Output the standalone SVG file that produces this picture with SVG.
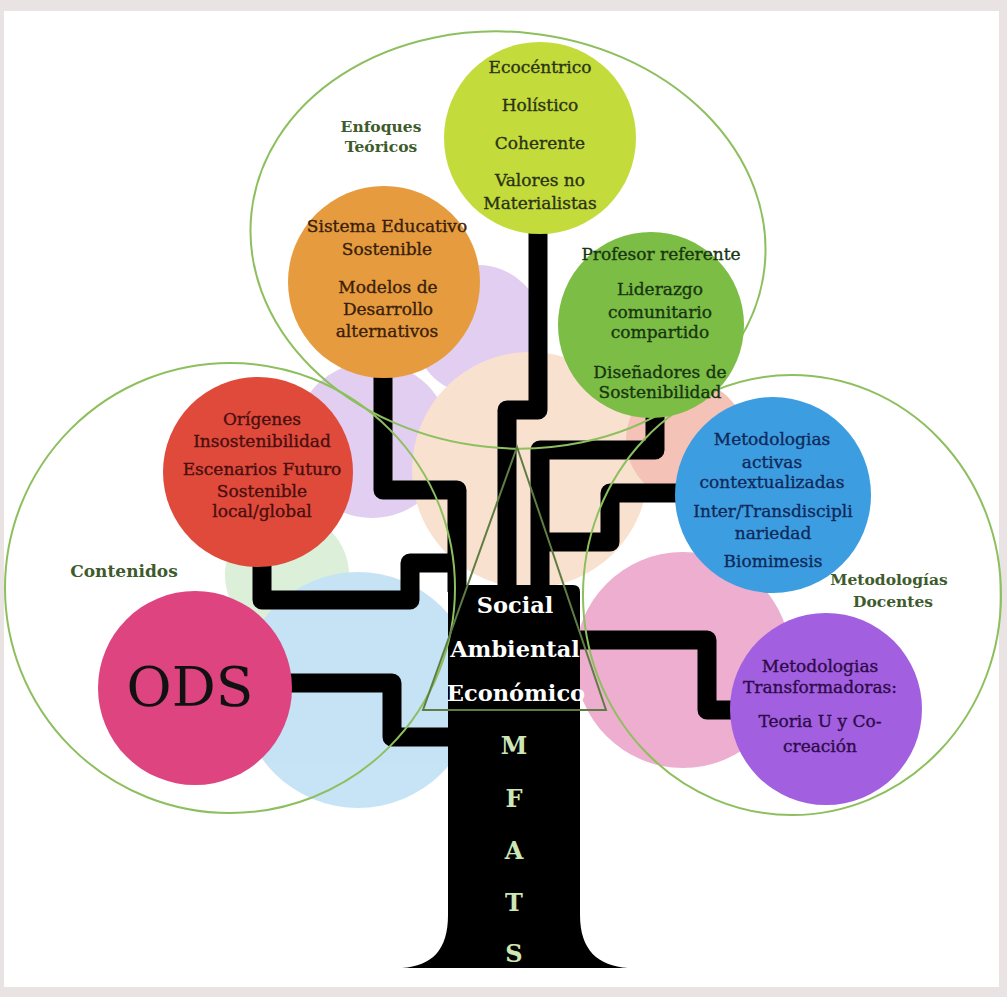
<svg xmlns="http://www.w3.org/2000/svg" width="1007" height="997" viewBox="0 0 1007 997">
  <style>
    .t { font-family: "DejaVu Serif", "Liberation Serif", serif; font-size: 17px; text-anchor: middle; stroke-width: 0.35px; }
    .lbl { font-weight: bold; fill: #3e5b2c; font-size: 15.5px; stroke: none; }
    .branch { fill: none; stroke: #000; stroke-width: 19; stroke-linejoin: round; }
    .ring { fill: none; stroke: #8dbf5e; stroke-width: 2; }
    .soft { opacity: 0.8; }
    .trunkTxt { font-family: "DejaVu Serif", "Liberation Serif", serif; font-weight: bold; font-size: 22.5px; text-anchor: middle; fill: #ffffff; }
    .mfats { font-family: "DejaVu Serif", "Liberation Serif", serif; font-weight: bold; font-size: 24px; text-anchor: middle; fill: #cde6b6; }
  </style>

  <!-- page background and white sheet -->
  <rect x="0" y="0" width="1007" height="997" fill="#e9e3e3"/>
  <rect x="4" y="11" width="995" height="976" fill="#ffffff"/>

  <!-- pale background blobs -->
  <g id="blobs" class="soft">
    <circle cx="478" cy="330" r="65" fill="#dcc2ee"/>
    <circle cx="372" cy="440" r="78" fill="#dcc2ee"/>
    <circle cx="530" cy="470" r="118" fill="#f7dcc4"/>
    <circle cx="686" cy="440" r="60" fill="#f3b4a6"/>
    <circle cx="683" cy="660" r="108" fill="#e99bc4"/>
    <circle cx="287" cy="575" r="62" fill="#d3ecd0"/>
    <circle cx="358" cy="690" r="118" fill="#b9ddf5"/>
  </g>

  <!-- branches linking each node to the trunk -->
  <g id="connectors">
    <path class="branch" d="M538 228 V410 H507 V592"/>
    <path class="branch" d="M655 405 V450 H540 V592"/>
    <path class="branch" d="M383 368 V490 H457 V592"/>
    <path class="branch" d="M262 555 V600 H410 V563 H462"/>
    <path class="branch" d="M285 683 H392 V737 H455"/>
    <path class="branch" d="M680 493 H610 V542 H540"/>
    <path class="branch" d="M575 640 H707 V710 H738"/>
  </g>

  <!-- trunk -->
  <g id="trunk">
    <path d="M448 592 Q448 585 455 585 L573 585 Q580 585 580 592 L580 915 C580 950 598 966 628 968 L402 968 C432 966 448 950 448 915 Z" fill="#000"/>
  </g>

  <!-- group outlines -->
  <g id="outlines">
    <ellipse class="ring" cx="508" cy="240" rx="258" ry="208" transform="rotate(6 508 240)"/>
    <circle class="ring" cx="230" cy="588" r="225"/>
    <ellipse class="ring" cx="792" cy="595" rx="209" ry="220"/>
    <polygon points="517,447 423,710 606,710" fill="none" stroke="#5f7d43" stroke-width="2"/>
  </g>

  <!-- nodes -->
  <g id="enfoques-ecocentrico">
    <circle cx="540" cy="138" r="96" fill="#c3dc3c"/>
    <g class="t" fill="#2b3315" stroke="#2b3315">
      <text x="540" y="73">Ecocéntrico</text>
      <text x="540" y="111">Holístico</text>
      <text x="540" y="149">Coherente</text>
      <text x="540" y="186">Valores no</text>
      <text x="540" y="209">Materialistas</text>
    </g>
  </g>

  <g id="enfoques-sistema">
    <circle cx="384" cy="282" r="96" fill="#e69c3e"/>
    <g class="t" fill="#3a200c" stroke="#3a200c">
      <text x="387" y="232">Sistema Educativo</text>
      <text x="387" y="255">Sostenible</text>
      <text x="388" y="293">Modelos de</text>
      <text x="388" y="315">Desarrollo</text>
      <text x="387" y="337">alternativos</text>
    </g>
  </g>

  <g id="enfoques-profesor">
    <circle cx="651" cy="325" r="93" fill="#7cbd45"/>
    <g class="t" fill="#17350f" stroke="#17350f">
      <text x="661" y="260">Profesor referente</text>
      <text x="660" y="295">Liderazgo</text>
      <text x="660" y="318">comunitario</text>
      <text x="660" y="338">compartido</text>
      <text x="660" y="378">Diseñadores de</text>
      <text x="660" y="398">Sostenibilidad</text>
    </g>
  </g>

  <g id="contenidos-origenes">
    <circle cx="258" cy="472" r="95" fill="#df4a3b"/>
    <g class="t" fill="#4a0e0e" stroke="#4a0e0e">
      <text x="262" y="425">Orígenes</text>
      <text x="262" y="447">Insostenibilidad</text>
      <text x="262" y="475">Escenarios Futuro</text>
      <text x="262" y="497">Sostenible</text>
      <text x="262" y="517">local/global</text>
    </g>
  </g>

  <g id="contenidos-ods">
    <circle cx="195" cy="688" r="97" fill="#de4480"/>
    <text x="190" y="706" font-family="DejaVu Serif, Liberation Serif, serif" font-size="55" text-anchor="middle" fill="#111">ODS</text>
  </g>

  <g id="metodologias-activas">
    <circle cx="773" cy="495" r="98" fill="#3c9ee1"/>
    <g class="t" fill="#10295a" stroke="#10295a">
      <text x="772" y="445">Metodologias</text>
      <text x="772" y="468">activas</text>
      <text x="772" y="488">contextualizadas</text>
      <text x="773" y="517">Inter/Transdiscipli</text>
      <text x="773" y="539">nariedad</text>
      <text x="773" y="567">Biomimesis</text>
    </g>
  </g>

  <g id="metodologias-transformadoras">
    <circle cx="826" cy="709" r="96" fill="#a25fe0"/>
    <g class="t" fill="#2e0b48" stroke="#2e0b48">
      <text x="820" y="672">Metodologias</text>
      <text x="820" y="693">Transformadoras:</text>
      <text x="820" y="727">Teoria U y Co-</text>
      <text x="820" y="752">creación</text>
    </g>
  </g>

  <!-- group labels -->
  <g id="labels" class="t">
    <text class="lbl" x="381" y="132">Enfoques</text>
    <text class="lbl" x="381" y="152">Teóricos</text>
    <text class="lbl" x="124" y="577" style="font-size:17px">Contenidos</text>
    <text class="lbl" x="889" y="585">Metodologías</text>
    <text class="lbl" x="893" y="607">Docentes</text>
  </g>

  <!-- trunk captions -->
  <g id="trunk-text">
    <text class="trunkTxt" x="515" y="613">Social</text>
    <text class="trunkTxt" x="515" y="657">Ambiental</text>
    <text class="trunkTxt" x="516" y="701">Económico</text>
    <text class="mfats" x="514" y="754">M</text>
    <text class="mfats" x="514" y="807">F</text>
    <text class="mfats" x="514" y="859">A</text>
    <text class="mfats" x="514" y="911">T</text>
    <text class="mfats" x="514" y="962">S</text>
  </g>
</svg>
